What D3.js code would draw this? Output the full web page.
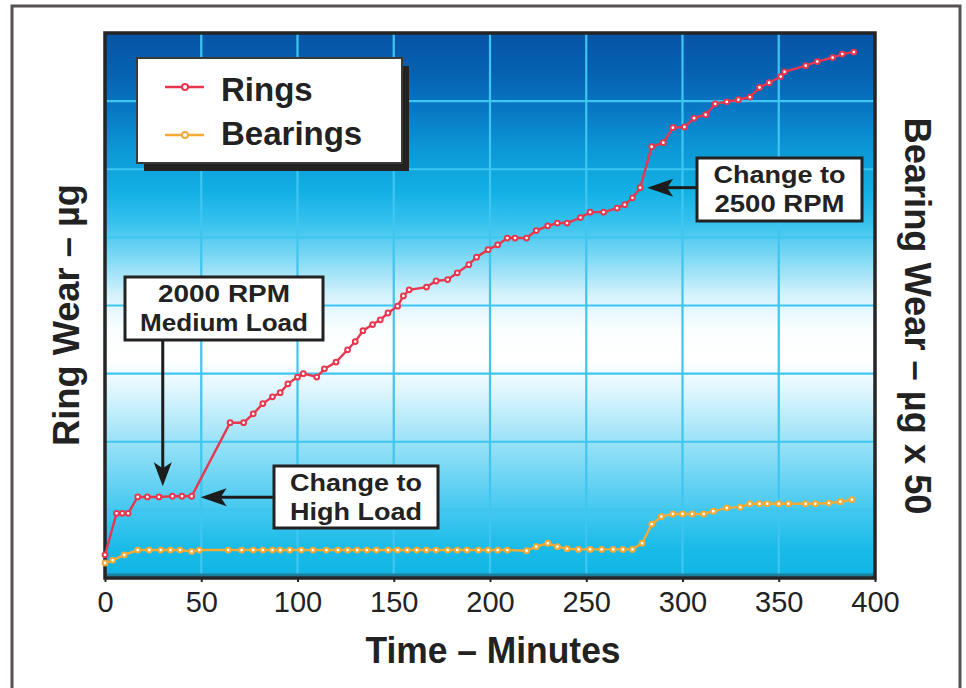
<!DOCTYPE html>
<html>
<head>
<meta charset="utf-8">
<script src="https://cdn.jsdelivr.net/npm/d3@7"></script>
<style>
  body { margin: 0; background: #fff; }
  svg { display: block; }
  text { font-family: "Liberation Sans", Arial, Helvetica, sans-serif; fill: #222; }
</style>
</head>
<body>
<script>
// ---- data -------------------------------------------------------------
// Ring wear (left axis) sampled over time, minutes
const ringTime = [0, 6, 9, 12, 17, 22, 28, 35, 40, 45, 65, 72, 77, 82, 87, 91, 95, 100, 103,
  110, 114, 120, 126, 130, 134, 139, 143, 147, 152, 155, 158, 167, 172, 178, 183, 189, 193, 199, 204,
  209, 213, 219, 224, 230, 235, 240, 247, 252, 259, 266, 270, 274, 278, 284, 290, 295, 301, 306, 312,
  317, 323, 329, 335, 340, 345, 351, 353, 364, 370, 378, 383, 389];
const ringWear = [3.4, 9.5, 9.5, 9.5, 11.9, 11.9, 11.9, 12.0, 12.0, 12.0, 22.8, 22.8, 24.1, 25.6, 26.6, 27.2, 28.5, 29.5, 30.0,
  29.5, 30.7, 31.7, 33.5, 34.7, 36.3, 37.2, 37.9, 38.9, 39.9, 41.4, 42.3, 42.7, 43.6, 43.8, 44.8, 46.0, 47.1, 48.2, 48.9,
  49.9, 49.9, 49.9, 51.0, 51.7, 52.1, 52.1, 52.9, 53.7, 53.7, 54.3, 54.8, 55.8, 57.3, 63.3, 63.9, 66.1, 66.2, 67.5, 68.0,
  69.6, 69.9, 70.2, 70.6, 72.0, 72.7, 73.6, 74.3, 75.2, 75.8, 76.4, 76.9, 77.2];

// Bearing wear (right axis, µg x 50) sampled over time, minutes
const bearingTime = [0, 4, 10, 17, 23, 29, 34, 39, 45, 49, 64, 71, 77, 82, 87, 91, 96, 102, 108, 115,
  121, 126, 131, 136, 141, 147, 152, 157, 162, 167, 172, 178, 183, 188, 194, 199, 204, 209,
  219, 224, 230, 235, 240, 246, 252, 258, 264, 269, 274, 279, 284, 289, 295, 300, 305, 311, 316, 323,
  330, 335, 340, 344, 350, 355, 364, 369, 376, 382, 388];
const bearingWear = [2.2, 2.6, 3.4, 4.1, 4.1, 4.1, 4.1, 4.1, 3.9, 4.1, 4.1, 4.1, 4.1, 4.1, 4.1, 4.1, 4.1, 4.1, 4.1, 4.1,
  4.1, 4.1, 4.1, 4.1, 4.1, 4.1, 4.1, 4.1, 4.1, 4.1, 4.1, 4.1, 4.1, 4.1, 4.1, 4.1, 4.1, 4.1,
  4.0, 4.6, 5.1, 4.6, 4.3, 4.2, 4.2, 4.2, 4.2, 4.2, 4.2, 5.1, 7.9, 9.0, 9.4, 9.4, 9.4, 9.4, 9.8, 10.3,
  10.4, 10.9, 10.9, 10.9, 10.9, 10.9, 10.9, 10.9, 11.0, 11.2, 11.5];

const timeTicks = [0, 50, 100, 150, 200, 250, 300, 350, 400];
const seriesNames = ["Rings", "Bearings"];
const seriesColors = ["#e8364e", "#f5aa35"];

const xTitle = "Time \u2013 Minutes";
const yLeftTitle = "Ring Wear \u2013 \u00b5g";
const yRightTitle = "Bearing Wear \u2013 \u00b5g x 50";

// ---- layout ----------------------------------------------------------
const W = 966, H = 688;
const plot = { left: 105, top: 33, right: 875, bottom: 578 };

const svg = d3.select("body").append("svg")
  .attr("width", W).attr("height", H);

// page frame
svg.append("rect")
  .attr("x", 12).attr("y", 6).attr("width", 948).attr("height", 700)
  .attr("fill", "none").attr("stroke", "#575055").attr("stroke-width", 3);

const x = d3.scaleLinear().domain([0, 400]).range([plot.left, plot.right]);
const yRing = d3.scaleLinear().domain([0, 80]).range([plot.bottom, plot.top]);
const yBear = d3.scaleLinear().domain([0, 80]).range([plot.bottom, plot.top]);

// ---- plot background gradient -----------------------------------------
const defs = svg.append("defs");
const grad = defs.append("linearGradient")
  .attr("id", "bg").attr("gradientUnits", "userSpaceOnUse")
  .attr("x1", 0).attr("x2", 0).attr("y1", plot.top).attr("y2", plot.bottom);
[
  [0.00, "#0654a6"], [0.07, "#0660b0"], [0.14, "#0878c4"], [0.215, "#0c98d6"],
  [0.29, "#12b0e4"], [0.35, "#38c2ee"], [0.42, "#88dcf6"], [0.48, "#d4f2fc"],
  [0.545, "#fbfeff"], [0.60, "#ffffff"], [0.665, "#d8f4fd"], [0.73, "#a8e6f8"],
  [0.80, "#78d8f4"], [0.875, "#44c8f0"], [0.95, "#18bae8"], [1.00, "#10b4e4"]
].forEach(([o, c]) => grad.append("stop").attr("offset", o).attr("stop-color", c));

svg.append("rect")
  .attr("x", plot.left).attr("y", plot.top)
  .attr("width", plot.right - plot.left).attr("height", plot.bottom - plot.top)
  .attr("fill", "url(#bg)");

// ---- grid --------------------------------------------------------------
const grid = svg.append("g").attr("stroke", "#3ec6f0").attr("stroke-width", 2.2);
grid.selectAll(".vx").data(timeTicks.filter(t => t > 0 && t < 400)).join("line")
  .attr("x1", d => x(d)).attr("x2", d => x(d))
  .attr("y1", plot.top).attr("y2", plot.bottom);
grid.selectAll(".hy").data(yRing.ticks(8).filter(v => v > 0 && v < 80)).join("line")
  .attr("y1", d => yRing(d)).attr("y2", d => yRing(d))
  .attr("x1", plot.left).attr("x2", plot.right);

// teal shading along the base of the plot
svg.append("line")
  .attr("x1", plot.left).attr("x2", plot.right)
  .attr("y1", plot.bottom - 3).attr("y2", plot.bottom - 3)
  .attr("stroke", "#1c7f9c").attr("stroke-width", 3);

// plot border
svg.append("rect")
  .attr("x", plot.left).attr("y", plot.top)
  .attr("width", plot.right - plot.left).attr("height", plot.bottom - plot.top)
  .attr("fill", "none").attr("stroke", "#252525").attr("stroke-width", 3.5);

// ---- x axis ------------------------------------------------------------
const xAxis = svg.append("g")
  .attr("transform", `translate(0,${plot.bottom})`)
  .call(d3.axisBottom(x).tickValues(timeTicks).tickSize(4).tickPadding(9));
xAxis.select(".domain").remove();
xAxis.selectAll(".tick line").attr("stroke", "#252525").attr("stroke-width", 2);
xAxis.selectAll(".tick text")
  .attr("font-size", 29).attr("fill", "#222")
  .style("font-family", '"Liberation Sans", Arial, sans-serif');

// ---- axis titles -------------------------------------------------------
svg.append("text")
  .attr("x", 493).attr("y", 663)
  .attr("text-anchor", "middle")
  .attr("font-size", 36).attr("font-weight", "bold")
  .attr("textLength", 255).attr("lengthAdjust", "spacingAndGlyphs")
  .text(xTitle);

svg.append("text")
  .attr("transform", "translate(79,315) rotate(-90)")
  .attr("text-anchor", "middle")
  .attr("font-size", 36).attr("font-weight", "bold")
  .attr("textLength", 262).attr("lengthAdjust", "spacingAndGlyphs")
  .text(yLeftTitle);

svg.append("text")
  .attr("transform", "translate(905,316) rotate(90)")
  .attr("text-anchor", "middle")
  .attr("font-size", 36).attr("font-weight", "bold")
  .attr("textLength", 397).attr("lengthAdjust", "spacingAndGlyphs")
  .text(yRightTitle);

// ---- series ------------------------------------------------------------
const ringData = ringTime.map((t, i) => ({ t, v: ringWear[i] }));
const bearData = bearingTime.map((t, i) => ({ t, v: bearingWear[i] }));

function drawSeries(data, yScale, color) {
  const g = svg.append("g");
  g.append("path")
    .datum(data)
    .attr("fill", "none").attr("stroke", color).attr("stroke-width", 2.4)
    .attr("d", d3.line().x(d => x(d.t)).y(d => yScale(d.v)));
  g.selectAll("circle").data(data).join("circle")
    .attr("cx", d => x(d.t)).attr("cy", d => yScale(d.v))
    .attr("r", 2.4)
    .attr("fill", "#fff").attr("stroke", color).attr("stroke-width", 2);
}
drawSeries(bearData, yBear, seriesColors[1]);
drawSeries(ringData, yRing, seriesColors[0]);

// ---- legend ------------------------------------------------------------
const lg = svg.append("g");
lg.append("rect").attr("x", 144).attr("y", 66).attr("width", 265).attr("height", 105).attr("fill", "#232323");
lg.append("rect").attr("x", 137).attr("y", 58).attr("width", 265).attr("height", 105)
  .attr("fill", "#fff").attr("stroke", "#3a3a3a").attr("stroke-width", 2);
seriesNames.forEach((name, i) => {
  const cy = 87 + i * 48;
  lg.append("line").attr("x1", 165).attr("x2", 204).attr("y1", cy).attr("y2", cy)
    .attr("stroke", seriesColors[i]).attr("stroke-width", 2.4);
  lg.append("circle").attr("cx", 185).attr("cy", cy).attr("r", 3)
    .attr("fill", "#fff").attr("stroke", seriesColors[i]).attr("stroke-width", 2);
  lg.append("text").attr("x", 221).attr("y", 101 + i * 44)
    .attr("font-size", 33).attr("font-weight", "bold")
    .text(name);
});

// ---- callouts ----------------------------------------------------------
const calloutLines = [
  ["2000 RPM", "Medium Load"],
  ["Change to", "High Load"],
  ["Change to", "2500 RPM"]
];
const calloutWidths = [[132, 168], [132, 132], [132, 130]];

function box(x0, y0, x1, y1, lines, widths) {
  svg.append("rect").attr("x", x0).attr("y", y0).attr("width", x1 - x0).attr("height", y1 - y0)
    .attr("fill", "#fff").attr("stroke", "#222").attr("stroke-width", 3);
  const cx = (x0 + x1) / 2;
  lines.forEach((s, i) => {
    svg.append("text").attr("x", cx).attr("y", y0 + 25 + i * 28.5)
      .attr("text-anchor", "middle").attr("font-size", 24).attr("font-weight", "bold")
      .attr("textLength", widths[i]).attr("lengthAdjust", "spacingAndGlyphs")
      .text(s);
  });
}

function arrowHead(tx, ty, dir) {
  // dir: "down" or "left"; concave-backed arrowhead with tip at (tx,ty)
  const p = dir === "down"
    ? [[tx, ty], [tx - 9, ty - 24], [tx, ty - 18], [tx + 9, ty - 24]]
    : [[tx, ty], [tx + 26, ty - 9], [tx + 20, ty], [tx + 26, ty + 9]];
  svg.append("path").attr("d", "M" + p.map(q => q.join(",")).join("L") + "Z").attr("fill", "#1c1c1c");
}

// 2000 RPM / Medium Load — points down to the first plateau of the ring curve
const a1x = x(30), a1y = yRing(12) - 10;
svg.append("line").attr("x1", a1x).attr("x2", a1x).attr("y1", 340).attr("y2", a1y - 12)
  .attr("stroke", "#1c1c1c").attr("stroke-width", 3);
arrowHead(a1x, a1y, "down");
box(125, 277, 323, 340, calloutLines[0], calloutWidths[0]);

// Change to High Load — points at the end of the plateau
const a2x = x(45) + 9, a2y = yRing(12) + 1;
svg.append("line").attr("x1", a2x + 20).attr("x2", 274).attr("y1", a2y).attr("y2", a2y)
  .attr("stroke", "#1c1c1c").attr("stroke-width", 3);
arrowHead(a2x, a2y, "left");
box(274, 466, 438, 528, calloutLines[1], calloutWidths[1]);

// Change to 2500 RPM — points at the jump in the ring curve
const a3x = x(278) + 7, a3y = yRing(57.3);
svg.append("line").attr("x1", a3x + 20).attr("x2", 697).attr("y1", a3y).attr("y2", a3y)
  .attr("stroke", "#1c1c1c").attr("stroke-width", 3);
arrowHead(a3x, a3y, "left");
box(697, 158, 862, 221, calloutLines[2], calloutWidths[2]);
</script>
</body>
</html>
